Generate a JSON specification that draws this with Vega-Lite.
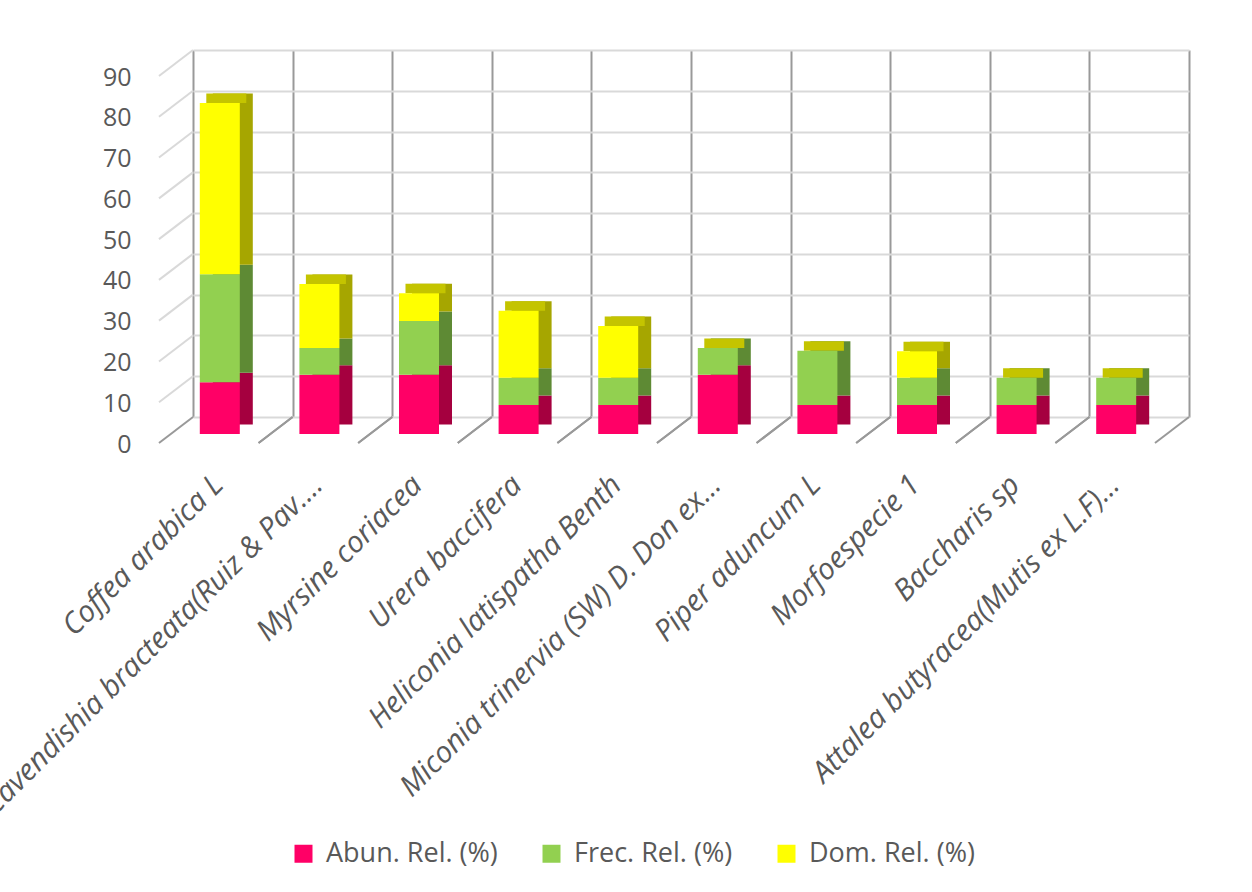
{
  "$schema": "https://vega.github.io/schema/vega-lite/v6.json",
  "width": 996,
  "height": 367,
  "autosize": {"type": "none"},
  "padding": {"left": 193, "top": 50, "right": 63, "bottom": 475},
  "background": "white",
  "datasets": {
    "especies": [
      {"especie": "Coffea arabica L", "serie": "Abun. Rel. (%)", "valor": 12.7},
      {"especie": "Coffea arabica L", "serie": "Frec. Rel. (%)", "valor": 26.5},
      {"especie": "Coffea arabica L", "serie": "Dom. Rel. (%)", "valor": 42.0},
      {"especie": "Cavendishia bracteata(Ruiz & Pav.…", "serie": "Abun. Rel. (%)", "valor": 14.5},
      {"especie": "Cavendishia bracteata(Ruiz & Pav.…", "serie": "Frec. Rel. (%)", "valor": 6.6},
      {"especie": "Cavendishia bracteata(Ruiz & Pav.…", "serie": "Dom. Rel. (%)", "valor": 15.7},
      {"especie": "Myrsine coriacea", "serie": "Abun. Rel. (%)", "valor": 14.5},
      {"especie": "Myrsine coriacea", "serie": "Frec. Rel. (%)", "valor": 13.2},
      {"especie": "Myrsine coriacea", "serie": "Dom. Rel. (%)", "valor": 6.8},
      {"especie": "Urera baccifera", "serie": "Abun. Rel. (%)", "valor": 7.1},
      {"especie": "Urera baccifera", "serie": "Frec. Rel. (%)", "valor": 6.7},
      {"especie": "Urera baccifera", "serie": "Dom. Rel. (%)", "valor": 16.4},
      {"especie": "Heliconia latispatha Benth", "serie": "Abun. Rel. (%)", "valor": 7.1},
      {"especie": "Heliconia latispatha Benth", "serie": "Frec. Rel. (%)", "valor": 6.7},
      {"especie": "Heliconia latispatha Benth", "serie": "Dom. Rel. (%)", "valor": 12.7},
      {"especie": "Miconia trinervia (SW) D. Don ex…", "serie": "Abun. Rel. (%)", "valor": 14.5},
      {"especie": "Miconia trinervia (SW) D. Don ex…", "serie": "Frec. Rel. (%)", "valor": 6.6},
      {"especie": "Miconia trinervia (SW) D. Don ex…", "serie": "Dom. Rel. (%)", "valor": 0},
      {"especie": "Piper aduncum L", "serie": "Abun. Rel. (%)", "valor": 7.1},
      {"especie": "Piper aduncum L", "serie": "Frec. Rel. (%)", "valor": 13.3},
      {"especie": "Piper aduncum L", "serie": "Dom. Rel. (%)", "valor": 0},
      {"especie": "Morfoespecie 1", "serie": "Abun. Rel. (%)", "valor": 7.1},
      {"especie": "Morfoespecie 1", "serie": "Frec. Rel. (%)", "valor": 6.7},
      {"especie": "Morfoespecie 1", "serie": "Dom. Rel. (%)", "valor": 6.5},
      {"especie": "Baccharis sp", "serie": "Abun. Rel. (%)", "valor": 7.1},
      {"especie": "Baccharis sp", "serie": "Frec. Rel. (%)", "valor": 6.7},
      {"especie": "Baccharis sp", "serie": "Dom. Rel. (%)", "valor": 0},
      {"especie": "Attalea butyracea(Mutis ex L.F)…", "serie": "Abun. Rel. (%)", "valor": 7.1},
      {"especie": "Attalea butyracea(Mutis ex L.F)…", "serie": "Frec. Rel. (%)", "valor": 6.7},
      {"especie": "Attalea butyracea(Mutis ex L.F)…", "serie": "Dom. Rel. (%)", "valor": 0}
    ],
    "marcas": [
      {"v": 10}, {"v": 20}, {"v": 30}, {"v": 40}, {"v": 50}, {"v": 60}, {"v": 70}, {"v": 80}, {"v": 90}
    ]
  },
  "data": {"name": "especies"},
  "layer": [
    {
      "data": {"name": "marcas"},
      "mark": {"type": "rule", "color": "#D9D9D9", "strokeWidth": 2, "x2Offset": -34, "y2Offset": 26},
      "encoding": {
        "x": {"datum": "Coffea arabica L", "bandPosition": 0},
        "x2": {"datum": "Coffea arabica L", "bandPosition": 0},
        "y": {"field": "v", "type": "quantitative"},
        "y2": {"field": "v"}
      }
    },
    {
      "transform": [{"aggregate": [{"op": "count", "as": "n"}], "groupby": ["especie"]}],
      "mark": {"type": "rule", "color": "#999999", "strokeWidth": 2, "x2Offset": -34, "y2Offset": 26},
      "encoding": {
        "x": {"field": "especie", "type": "nominal", "sort": null, "bandPosition": 0},
        "x2": {"field": "especie", "bandPosition": 0},
        "y": {"datum": 0},
        "y2": {"datum": 0}
      }
    },
    {
      "transform": [{"aggregate": [{"op": "count", "as": "n"}], "groupby": ["especie"]}],
      "mark": {"type": "rule", "color": "#999999", "strokeWidth": 2, "x2Offset": -34, "y2Offset": 26},
      "encoding": {
        "x": {"field": "especie", "type": "nominal", "sort": null, "bandPosition": 1},
        "x2": {"field": "especie", "bandPosition": 1},
        "y": {"datum": 0},
        "y2": {"datum": 0}
      }
    },
    {
      "transform": [
        {"calculate": "indexof(['Abun. Rel. (%)', 'Frec. Rel. (%)', 'Dom. Rel. (%)'], datum.serie)", "as": "orden"}
      ],
      "mark": {"type": "bar", "width": 40, "xOffset": -10, "yOffset": 7.5},
      "encoding": {
        "x": {
          "field": "especie", "type": "nominal", "sort": null,
          "scale": {"paddingInner": 0, "paddingOuter": 0},
          "axis": {
            "title": null, "grid": true, "tickBand": "extent", "gridColor": "#999999", "gridWidth": 2,
            "ticks": false, "domain": false, "labelAngle": -45, "labelAlign": "right", "labelBaseline": "middle",
            "labelOffset": -25, "labelPadding": 63, "labelFontSize": 29.5, "labelFontStyle": "italic",
            "labelColor": "#595959", "labelLimit": 1000, "labelFont": "Open Sans"
          }
        },
        "y": {
          "field": "valor", "type": "quantitative", "stack": "zero",
          "scale": {"domain": [0, 90], "nice": false},
          "axis": {
            "title": null, "grid": true, "gridColor": "#D9D9D9", "gridWidth": 2, "ticks": false, "domain": false,
            "values": [0, 10, 20, 30, 40, 50, 60, 70, 80, 90], "labelOffset": 27, "labelPadding": 62,
            "labelFontSize": 25, "labelColor": "#595959", "labelFont": "Open Sans"
          }
        },
        "color": {
          "field": "serie", "type": "nominal",
          "scale": {"domain": ["Abun. Rel. (%)", "Frec. Rel. (%)", "Dom. Rel. (%)"], "range": ["#A5003F", "#5E8A34", "#A6A600"]},
          "legend": null
        },
        "order": {"field": "orden", "type": "quantitative"}
      }
    },
    {
      "transform": [
        {"aggregate": [{"op": "sum", "field": "valor", "as": "total"}], "groupby": ["especie"]}
      ],
      "mark": {"type": "tick", "color": "#C4C400", "thickness": 9.5, "size": 40, "xOffset": -16.5, "yOffset": 12.25, "opacity": 1},
      "encoding": {
        "x": {"field": "especie", "type": "nominal", "sort": null},
        "y": {"field": "total", "type": "quantitative"}
      }
    },
    {
      "transform": [
        {"calculate": "indexof(['Abun. Rel. (%)', 'Frec. Rel. (%)', 'Dom. Rel. (%)'], datum.serie)", "as": "orden"}
      ],
      "mark": {"type": "bar", "width": 40, "xOffset": -23, "yOffset": 17},
      "encoding": {
        "x": {"field": "especie", "type": "nominal", "sort": null},
        "y": {"field": "valor", "type": "quantitative", "stack": "zero"},
        "color": {
          "field": "serie", "type": "nominal",
          "scale": {"domain": ["Abun. Rel. (%)", "Frec. Rel. (%)", "Dom. Rel. (%)"], "range": ["#FF0066", "#92D050", "#FFFF00"]},
          "legend": {
            "title": null, "orient": "none", "legendX": 97, "legendY": 790, "direction": "horizontal",
            "symbolType": "square", "symbolSize": 324, "symbolStrokeWidth": 0, "symbolOpacity": 1,
            "labelFontSize": 27, "labelColor": "#595959", "labelFont": "Open Sans",
            "labelOffset": 9, "columnPadding": 40, "labelLimit": 400
          }
        },
        "order": {"field": "orden", "type": "quantitative"}
      }
    }
  ],
  "resolve": {"scale": {"color": "independent"}},
  "config": {
    "view": {"stroke": null},
    "font": "Open Sans"
  }
}
